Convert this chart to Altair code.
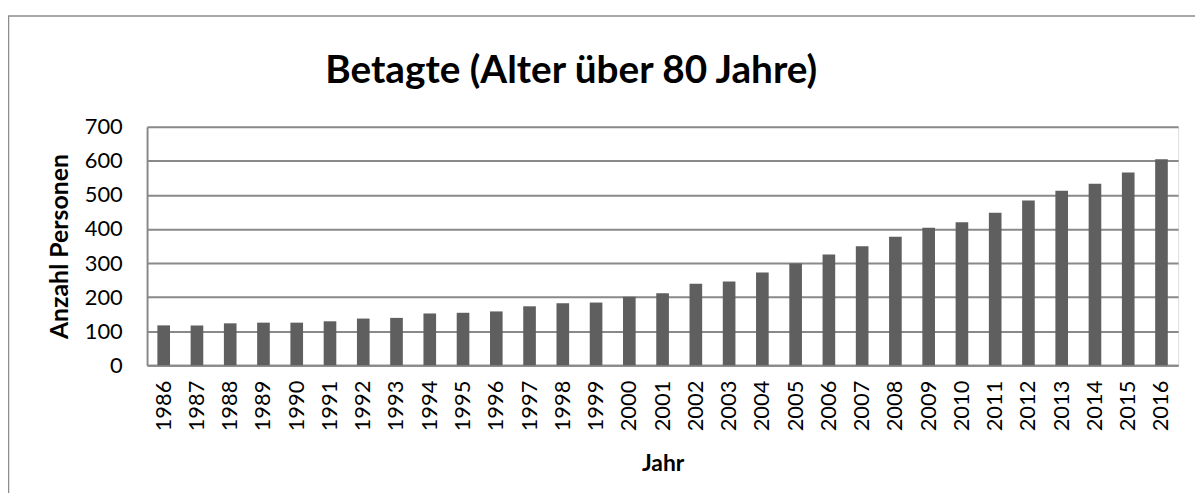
import altair as alt
import pandas as pd

years = ["1986", "1987", "1988", "1989", "1990", "1991", "1992", "1993",
         "1994", "1995", "1996", "1997", "1998", "1999", "2000", "2001",
         "2002", "2003", "2004", "2005", "2006", "2007", "2008", "2009",
         "2010", "2011", "2012", "2013", "2014", "2015", "2016"]
persons = [117, 117, 123, 125, 125, 129, 137, 139, 152, 154, 158, 173, 182, 184,
           201, 211, 239, 246, 272, 299, 325, 349, 377, 404, 420, 448, 484, 512,
           533, 566, 605]
y_ticks = [0, 100, 200, 300, 400, 500, 600, 700]

df = pd.DataFrame({"Jahr": years, "Anzahl": persons})

FONT = "Lato"
GRID = "#898989"

bars = alt.Chart(df).mark_bar(color="#5f5f5f").encode(
    x=alt.X(
        "Jahr:N",
        sort=years,
        scale=alt.Scale(paddingInner=0.62, paddingOuter=0.31),
        axis=alt.Axis(
            title="Jahr",
            labelAngle=270,
            labelFontSize=22,
            labelFont=FONT,
            labelColor="#000000",
            labelPadding=15,
            ticks=False,
            domainColor=GRID,
            domainWidth=2,
            titleFont=FONT,
            titleFontSize=23,
            titleFontWeight="bold",
            titleColor="#000000",
            titleY=99,
            titleBaseline="middle",
        ),
    ),
    y=alt.Y(
        "Anzahl:Q",
        scale=alt.Scale(domain=[0, 700]),
        axis=alt.Axis(
            title="Anzahl Personen",
            values=y_ticks,
            labelFontSize=22,
            labelFont=FONT,
            labelColor="#000000",
            labelPadding=25,
            ticks=False,
            domainColor=GRID,
            domainWidth=2,
            gridColor=GRID,
            gridWidth=2,
            titleFont=FONT,
            titleFontSize=25,
            titleFontWeight="bold",
            titleColor="#000000",
            titleAngle=270,
            titleX=-88,
            titleY=120,
            titleBaseline="middle",
            titleAlign="center",
        ),
    ),
)

border = alt.Chart(pd.DataFrame({"a": [0]})).mark_rect(
    fillOpacity=0, stroke="#8c8c8c", strokeWidth=1.5
).encode(
    x=alt.value(-139.5), x2=alt.value(1100),
    y=alt.value(-111.5), y2=alt.value(420),
)

chart = alt.layer(border, bars).properties(
    width=1038,
    height=240,
    title=alt.TitleParams(
        "Betagte (Alter über 80 Jahre)",
        font=FONT,
        fontSize=39,
        fontWeight="bold",
        color="#000000",
        anchor="middle",
        dx=-92,
        offset=-107,
        baseline="alphabetic",
    ),
    autosize=alt.AutoSizeParams(type="none"),
    padding={"left": 140, "top": 118, "right": 17, "bottom": 127},
).configure_view(strokeWidth=0).configure(background="#ffffff")

chart.save("out.html", embed_options={"renderer": "svg", "actions": False})
